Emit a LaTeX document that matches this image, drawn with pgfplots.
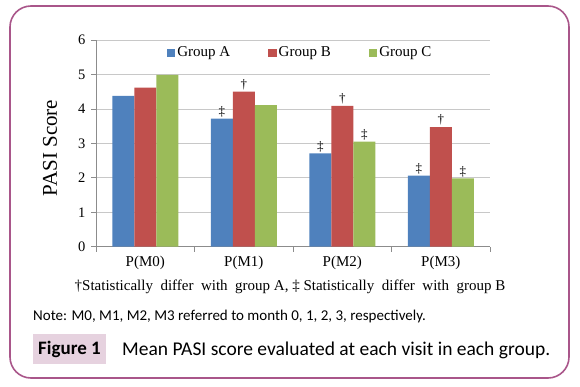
\documentclass[border=0pt]{standalone}
\usepackage{fontspec}
\setmainfont{Liberation Serif}
\newfontfamily\calibri{Carlito}
\usepackage{pgfplots}
\pgfplotsset{compat=1.18}
\definecolor{cA}{HTML}{4F81BD}
\definecolor{cB}{HTML}{C0504D}
\definecolor{cC}{HTML}{9BBB59}
\definecolor{frame}{HTML}{A9568A}
\definecolor{capbox}{HTML}{E6D2DF}
\definecolor{gridc}{HTML}{C8C8C8}
\definecolor{axisc}{HTML}{8C8C8C}
\begin{document}
\begin{tikzpicture}[x=1pt,y=1pt]
\path[use as bounding box] (0,0) rectangle (580,386);
\draw[frame, line width=1.6pt, rounded corners=21pt] (10,8) rectangle (569,380);
\begin{axis}[
  at={(96pt,139.3pt)}, anchor=south west,
  width=394pt, height=206.7pt, scale only axis,
  ybar=0pt, bar width=22pt,
  xmin=-0.5, xmax=3.5, ymin=0, ymax=6,
  xtick={-0.5,0.5,1.5,2.5,3.5},
  x tick label as interval,
  xticklabels={P(M0),P(M1),P(M2),P(M3)},
  ytick={0,1,2,3,4,5,6},
  axis x line*=bottom, axis y line*=left,
  axis line style={draw=axisc, line width=0.8pt},
  tick style={draw=axisc, line width=0.8pt},
  tick align=outside, major tick length=5pt,
  ymajorgrids, major grid style={draw=gridc, line width=0.8pt},
  /pgf/number format/assume math mode=true,
  yticklabel style={font=\fontsize{14.5}{14.5}\selectfont, xshift=-2pt},
  xticklabel style={font=\fontsize{15}{15}\selectfont, yshift=-1pt},
  ylabel={PASI Score},
  ylabel style={font=\fontsize{21}{21}\selectfont, at={(axis description cs:-0.117,0.4775)}, anchor=center},
  legend style={at={(0.518,0.9385)}, anchor=center, draw=none, fill=none,
    legend columns=3, font=\fontsize{15}{15}\selectfont,
    /tikz/every odd column/.append style={column sep=0pt},
    /tikz/every even column/.append style={column sep=36pt}},
]
\addplot[fill=cA, draw=none, legend image code/.code={\fill[cA] (0pt,-4pt) rectangle (8.5pt,4pt);}]
  coordinates {(0,4.375) (1,3.72) (2,2.71) (3,2.06)};
\addplot[fill=cB, draw=none, legend image code/.code={\fill[cB] (0pt,-4pt) rectangle (8.5pt,4pt);}]
  coordinates {(0,4.62) (1,4.50) (2,4.085) (3,3.47)};
\addplot[fill=cC, draw=none, legend image code/.code={\fill[cC] (0pt,-4pt) rectangle (8.5pt,4pt);}]
  coordinates {(0,4.985) (1,4.11) (2,3.05) (3,1.98)};
\legend{Group A, Group B, Group C}
\tikzset{dg/.style={font=\fontsize{13}{13}\selectfont, anchor=south, inner sep=1.5pt}}
\node[dg] at (axis cs:1,4.50) {†};
\node[dg, xshift=-22pt] at (axis cs:1,3.72) {‡};
\node[dg] at (axis cs:2,4.085) {†};
\node[dg, xshift=-22pt] at (axis cs:2,2.71) {‡};
\node[dg, xshift=22pt] at (axis cs:2,3.05) {‡};
\node[dg] at (axis cs:3,3.47) {†};
\node[dg, xshift=-22pt] at (axis cs:3,2.06) {‡};
\node[dg, xshift=22pt] at (axis cs:3,1.98) {‡};
\end{axis}
\node[font=\fontsize{15}{15}\selectfont] at (290,99) {†Statistically\ \ differ\ \ with\ \ group A, ‡ Statistically\ \ differ\ \ with\ \ group B};
\node[anchor=west, inner sep=0pt, font=\calibri\fontsize{15}{15}\selectfont] at (33,70) {Note: M0, M1, M2, M3 referred to month 0, 1, 2, 3, respectively.};
\fill[capbox] (33,22) rectangle (106,52);
\node[font=\calibri\bfseries\fontsize{19}{19}\selectfont] at (69.5,37) {Figure 1};
\node[anchor=west, inner sep=0pt, font=\calibri\fontsize{19.5}{19.5}\selectfont] at (122,36) {Mean PASI score evaluated at each visit in each group.};
\end{tikzpicture}
\end{document}
